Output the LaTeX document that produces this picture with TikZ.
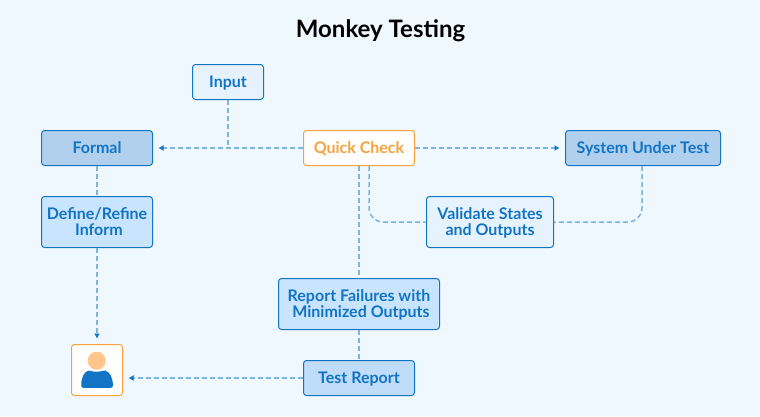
\documentclass[tikz,border=0pt]{standalone}
\usepackage{fontspec}
\setmainfont{Lato}[BoldFont={Lato Bold}]
\newfontfamily\medfont{Lato Bold}
\usetikzlibrary{arrows.meta,calc}
\definecolor{bgc}{HTML}{F0F8FF}
\definecolor{strokec}{HTML}{1274C4}
\definecolor{linec}{HTML}{7DB5E2}
\definecolor{orangec}{HTML}{F9A23B}
\definecolor{headc}{HTML}{FFC58A}
\definecolor{inputc}{HTML}{E6F3FF}
\definecolor{darkc}{HTML}{B1D0EE}
\definecolor{midc}{HTML}{C8E4FF}
\definecolor{reportc}{HTML}{BFDCF8}
\newcommand{\lift}[1]{\raisebox{-1pt}[12pt][4pt]{#1}}
\tikzset{
  x=1pt,y=-1pt,
  box/.style={draw=strokec,line width=1pt,rounded corners=3pt,inner sep=0pt,align=center,
    text=strokec,font=\medfont\fontsize{16}{16}\selectfont},
  inputbox/.style={box,fill=inputc,minimum width=71pt,minimum height=35pt},
  dark/.style={box,fill=darkc,minimum height=35pt},
  mid/.style={box,fill=midc,minimum height=51pt},
  link/.style={draw=linec,line width=1.5pt,dash pattern=on 5pt off 3pt},
  bend14/.style={link,rounded corners=14pt},
  linkarrow/.style={link,-{Latex[length=5pt,width=6pt,color=strokec]},shorten >=5.5pt},
}
\begin{document}
\begin{tikzpicture}
\useasboundingbox[fill=bgc] (0,0) rectangle (760,416);
\node[font=\medfont\fontsize{24}{28}\selectfont,text=black] (title) at (380.5,31) {Monkey Testing};
\node[inputbox] (input) at (228,82) {\lift{Input}};
\node[dark,minimum width=111pt] (formal) at (97,148) {\lift{Formal}};
\node[mid,minimum width=111pt] (define) at (97,222) {\lift{Define/Refine}\\[0pt]\hspace*{4pt}\lift{Inform}};
\node[box,draw=orangec,text=orangec,fill=white,minimum width=111pt,minimum height=35pt] (quick) at (359,148) {\lift{Quick Check}};
\node[dark,minimum width=155pt] (sut) at (643,148) {\lift{System Under Test}};
\node[inputbox,minimum width=127pt,minimum height=51pt] (validate) at (490,222) {\lift{Validate States}\\\lift{and Outputs}};
\node[mid,minimum width=161pt] (failures) at (359,304) {\lift{Report Failures with}\\\hspace*{4pt}\lift{Minimized Outputs}};
\node[box,fill=reportc,minimum width=111pt,minimum height=35pt] (report) at (359,378) {\lift{Test Report}};
\node[draw=orangec,line width=1pt,rounded corners=3pt,fill=white,minimum width=51pt,minimum height=51pt,inner sep=0pt] (user) at (97,370) {};
% person icon
\fill[headc] (96.7,360.7) circle (9);
\fill[strokec,rounded corners=2pt] (81.3,387.8) .. controls (81,378) and (84,372) .. (90,370) .. controls (93,372) and (100,372) .. (103.5,370) .. controls (110,372) and (113,378) .. (112.8,387.8) -- cycle;
% connectors
\coordinate (junction) at (input |- quick);
\coordinate (qa) at ([xshift=10pt]quick.south);
\coordinate (sa) at ([xshift=-1pt]sut.south);
\coordinate (userin) at (report.west -| user.east);
\draw[link] (input.south) -- (junction);
\draw[linkarrow] (quick.west) -- (formal.east);
\draw[linkarrow] (quick.east) -- (sut.west);
\draw[link] (quick.south) -- (failures.north);
\draw[bend14] (qa) |- (validate.west);
\draw[bend14] (sa) |- (validate.east);
\draw[link] (formal.south) -- (define.north);
\draw[linkarrow] (define.south) -- (user.north);
\draw[link] (failures.south) -- (report.north);
\draw[linkarrow] (report.west) -- (userin);
\end{tikzpicture}
\end{document}
